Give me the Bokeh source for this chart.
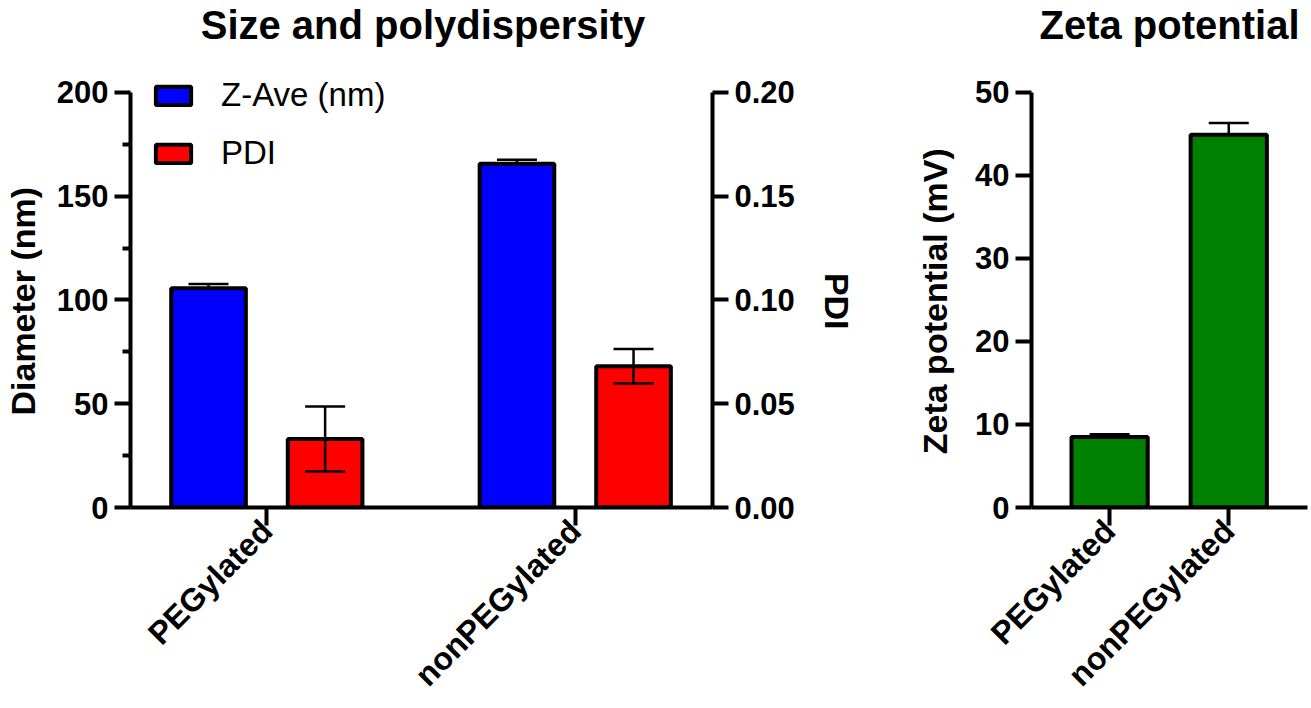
import math
from bokeh.plotting import figure
from bokeh.models import (Range1d, LinearAxis, FixedTicker, ColumnDataSource, Whisker,
                          TeeHead, Legend, LegendItem, NumeralTickFormatter, Label)
from bokeh.layouts import row
from bokeh.embed import file_html
from bokeh.resources import INLINE

# ---------------- data ----------------
categories = ["PEGylated", "nonPEGylated"]
zave = [105.6, 165.6]          # Z-Ave (nm)
zave_err = [2.1, 1.9]
pdi = [0.033, 0.068]           # PDI
pdi_err = [0.0156, 0.0083]
zeta = [8.5, 44.9]             # Zeta potential (mV)
zeta_err = [0.33, 1.4]

diam_ticks = [0, 50, 100, 150, 200]
diam_minor = [25, 75, 125, 175]
pdi_ticks = [0.0, 0.05, 0.10, 0.15, 0.20]
zeta_ticks = [0, 10, 20, 30, 40, 50]

FONT = "Liberation Sans"
xpos = [i + 1 for i in range(len(categories))]
label_map = {x: c for x, c in zip(xpos, categories)}
OFF = 0.189
BW = 0.242

H = 708
BOTTOM = 200
FRAME_H = H - BOTTOM            # frame spans from the top of the canvas to the x axis
AXIS_PX = 416                   # pixel length of the value axes
SCALE = FRAME_H / AXIS_PX
PAD = "\u00a0" * 10             # re-centres the axis titles on the drawn axis


def style_axis(ax):
    ax.axis_line_width = 4
    ax.axis_line_color = "black"
    ax.major_tick_line_width = 4
    ax.major_tick_in = 0
    ax.major_tick_out = 16
    ax.minor_tick_line_width = 4
    ax.minor_tick_in = 0
    ax.minor_tick_out = 8
    ax.major_label_text_font = FONT
    ax.major_label_text_font_style = "bold"
    ax.major_label_text_font_size = "31px"
    ax.major_label_text_color = "black"
    ax.axis_label_text_font = FONT
    ax.axis_label_text_font_style = "bold"
    ax.axis_label_text_font_size = "34px"
    ax.axis_label_text_color = "black"
    ax.major_label_standoff = 6


def style_xaxis(ax):
    style_axis(ax)
    ax.ticker = FixedTicker(ticks=xpos, minor_ticks=[])
    ax.major_label_overrides = label_map
    ax.major_label_orientation = math.pi / 4
    ax.major_label_text_font_size = "32px"
    ax.major_tick_out = 18
    ax.major_label_standoff = 0
    ax.axis_label_standoff = 0


def add_title(p, text, frame_w):
    p.add_layout(Label(x=frame_w / 2, y=FRAME_H - 25, x_units="screen", y_units="screen",
                       text=text, text_align="center", text_baseline="alphabetic",
                       text_font=FONT, text_font_style="bold", text_font_size="40px",
                       text_color="black"))


# ---------------- left chart ----------------
src1 = ColumnDataSource(dict(
    xz=[x - OFF for x in xpos],
    xp=[x + OFF for x in xpos],
    zave=zave,
    zave_hi=[v + e for v, e in zip(zave, zave_err)],
    pdi=pdi,
    pdi_lo=[v - e for v, e in zip(pdi, pdi_err)],
    pdi_hi=[v + e for v, e in zip(pdi, pdi_err)],
))

L1, F1, R1 = 127, 585, 170
W1 = L1 + F1 + R1
p1 = figure(width=W1, height=H, x_range=Range1d(0.558, 2.445),
            y_range=Range1d(0, 200 * SCALE),
            output_backend="svg", toolbar_location=None,
            min_border_left=L1, min_border_right=R1, min_border_top=0, min_border_bottom=BOTTOM)
p1.extra_y_ranges = {"pdi": Range1d(0, 0.2 * SCALE)}
p1.outline_line_color = None
p1.xgrid.visible = False
p1.ygrid.visible = False

rz = p1.vbar(x="xz", width=BW, top="zave", bottom=0, source=src1,
             fill_color="#0000FF", line_color="black", line_width=4)
rp = p1.vbar(x="xp", width=BW, top="pdi", bottom=0, source=src1, y_range_name="pdi",
             fill_color="#FF0000", line_color="black", line_width=4)

wz = Whisker(base="xz", upper="zave_hi", lower="zave", source=src1, line_width=2.5,
             upper_head=TeeHead(size=40, line_width=2.5), lower_head=None, level="annotation")
wp = Whisker(base="xp", upper="pdi_hi", lower="pdi_lo", source=src1, y_range_name="pdi",
             line_width=2.5, upper_head=TeeHead(size=40, line_width=2.5),
             lower_head=TeeHead(size=40, line_width=2.5), level="annotation")
p1.add_layout(wz)
p1.add_layout(wp)

for ax in p1.yaxis:
    style_axis(ax)
    ax.ticker = FixedTicker(ticks=diam_ticks, minor_ticks=diam_minor)
    ax.axis_label = "Diameter (nm)" + PAD
    ax.axis_label_standoff = 12
    ax.bounds = (0, 200)
for ax in p1.xaxis:
    style_xaxis(ax)

ax_pdi = LinearAxis(y_range_name="pdi", axis_label=PAD + "PDI",
                    ticker=FixedTicker(ticks=pdi_ticks, minor_ticks=[]),
                    formatter=NumeralTickFormatter(format="0.00"))
style_axis(ax_pdi)
ax_pdi.axis_label_standoff = 20
ax_pdi.bounds = (0, 0.2)
p1.add_layout(ax_pdi, "right")

legend = Legend(items=[LegendItem(label="Z-Ave (nm)", renderers=[rz]),
                       LegendItem(label="PDI", renderers=[rp])],
                location=(21, 335), orientation="vertical",
                glyph_width=44, glyph_height=23, label_height=23, spacing=20,
                label_standoff=26, padding=0, margin=0,
                border_line_color=None, background_fill_alpha=0,
                label_text_font=FONT, label_text_font_size="33px",
                label_text_color="black")
p1.add_layout(legend)

add_title(p1, "Size and polydispersity", F1)

# ---------------- right chart ----------------
src2 = ColumnDataSource(dict(
    x=xpos,
    zeta=zeta,
    zeta_hi=[v + e for v, e in zip(zeta, zeta_err)],
))

L2, F2 = 149, 276
W2 = 1311 - W1
R2 = W2 - L2 - F2
p2 = figure(width=W2, height=H, x_range=Range1d(0.3445, 2.661), y_range=Range1d(0, 50 * SCALE),
            output_backend="svg", toolbar_location=None,
            min_border_left=L2, min_border_right=R2, min_border_top=0, min_border_bottom=BOTTOM)
p2.outline_line_color = None
p2.xgrid.visible = False
p2.ygrid.visible = False

p2.vbar(x="x", width=0.64, top="zeta", bottom=0, source=src2,
        fill_color="#008000", line_color="black", line_width=4)
wzeta = Whisker(base="x", upper="zeta_hi", lower="zeta", source=src2, line_width=2.5,
                upper_head=TeeHead(size=40, line_width=2.5), lower_head=None, level="annotation")
p2.add_layout(wzeta)

for ax in p2.yaxis:
    style_axis(ax)
    ax.ticker = FixedTicker(ticks=zeta_ticks, minor_ticks=[])
    ax.axis_label = "Zeta potential (mV)" + PAD
    ax.axis_label_standoff = 18
    ax.bounds = (0, 50)
for ax in p2.xaxis:
    style_xaxis(ax)

add_title(p2, "Zeta potential", F2)

layout = row(p1, p2)
open("out.html", "w").write(file_html(layout, INLINE))
